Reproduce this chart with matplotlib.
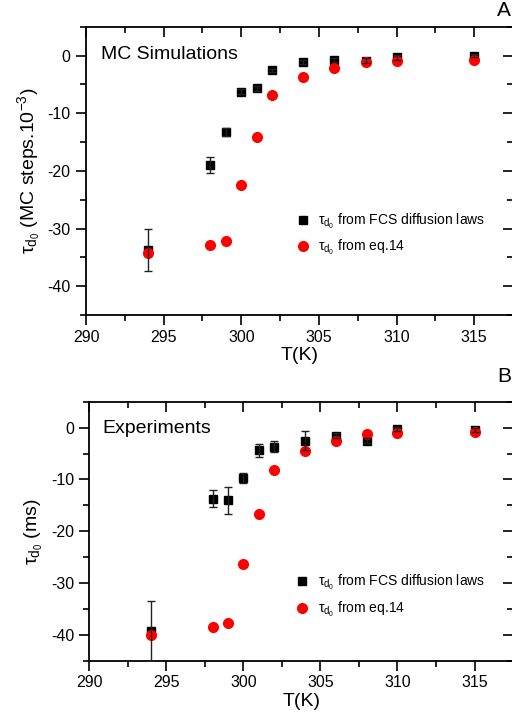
import numpy as np
import matplotlib
matplotlib.use('Agg')
import matplotlib.pyplot as plt
from matplotlib.ticker import MultipleLocator

plt.rcParams['font.family'] = ['Liberation Sans', 'DejaVu Sans']
plt.rcParams['mathtext.fontset'] = 'custom'
plt.rcParams['mathtext.rm'] = 'Liberation Sans'
plt.rcParams['mathtext.it'] = 'Liberation Sans'
plt.rcParams['mathtext.bf'] = 'Liberation Sans:bold'
plt.rcParams['axes.unicode_minus'] = False

# 온도 (K)
temp = [294, 298, 299, 300, 301, 302, 304, 306, 308, 310, 315]

# A: MC simulations
mc_fcs = [-33.7, -19.0, -13.3, -6.25, -5.7, -2.55, -1.1, -0.75, -0.87, -0.3, 0.0]
mc_fcs_err = [3.6, 1.4, 0.7, 0.5, 0.5, 0.3, 0.3, 0.3, 0.5, 0.4, 0.3]
mc_eq14 = [-34.2, -32.9, -32.1, -22.5, -14.2, -6.8, -3.8, -2.1, -1.1, -0.87, -0.7]

# B: experiments
exp_fcs = [-39.2, -13.7, -14.0, -9.7, -4.4, -3.65, -2.5, -1.55, -2.5, -0.3, -0.45]
exp_fcs_err = [5.8, 1.7, 2.6, 1.0, 1.3, 1.0, 1.8, 0.5, 0.5, 0.4, 0.4]
exp_eq14 = [-40.1, -38.5, -37.8, -26.4, -16.7, -8.1, -4.5, -2.5, -1.2, -1.0, -0.9]

fig = plt.figure(figsize=(5.12, 7.22), dpi=100)
ax1 = fig.add_axes([0.168, 0.5637, 0.834, 0.3993])
ax2 = fig.add_axes([0.1744, 0.0849, 0.8276, 0.3587])

lab_fcs = r'$\tau_{d_0}$ from FCS diffusion laws'
lab_eq = r'$\tau_{d_0}$ from eq.14'


def draw(ax, fcs, err, eq, title, ylabel, title_pos, leg_anchor):
    ax.plot(temp, fcs, 's', color='black', ms=6, zorder=3, label=lab_fcs)
    ax.plot(temp, eq, 'o', color='red', ms=7, zorder=4, label=lab_eq)
    ax.errorbar(temp, fcs, yerr=err, fmt='none', ecolor='#222222',
                elinewidth=1, capsize=3, capthick=1, zorder=5)
    ax.set_xlim(290, 317.5)
    ax.set_ylim(-45, 5)
    ax.xaxis.set_major_locator(MultipleLocator(5))
    ax.xaxis.set_minor_locator(MultipleLocator(2.5))
    ax.yaxis.set_major_locator(MultipleLocator(10))
    ax.yaxis.set_minor_locator(MultipleLocator(5))
    ax.tick_params(axis='both', which='major', labelsize=11.5, width=1.2, length=7)
    ax.tick_params(axis='both', which='minor', width=1.2, length=4)
    ax.tick_params(axis='x', which='both', direction='out', top=False, pad=3.5)
    ax.tick_params(axis='y', which='both', direction='out', right=False, pad=4)
    # 위/오른쪽 축 눈금 (안쪽)
    sec_x = ax.secondary_xaxis('top')
    sec_x.xaxis.set_major_locator(MultipleLocator(5))
    sec_x.xaxis.set_minor_locator(MultipleLocator(2.5))
    sec_x.tick_params(which='both', direction='in', labeltop=False, width=1.2)
    sec_x.tick_params(which='major', length=7)
    sec_x.tick_params(which='minor', length=4)
    sec_x.spines['top'].set_visible(False)
    sec_y = ax.secondary_yaxis('right')
    sec_y.yaxis.set_major_locator(MultipleLocator(10))
    sec_y.yaxis.set_minor_locator(MultipleLocator(5))
    sec_y.tick_params(which='both', direction='in', labelright=False, width=1.2)
    sec_y.tick_params(which='major', length=7)
    sec_y.tick_params(which='minor', length=4)
    sec_y.spines['right'].set_visible(False)
    for s in ax.spines.values():
        s.set_linewidth(1.3)
    ax.set_xlabel('T(K)', fontsize=14, labelpad=2)
    ax.set_ylabel(ylabel, fontsize=14, labelpad=4)
    ax.text(title_pos[0], title_pos[1], title, transform=ax.transAxes,
            fontsize=14, va='center', ha='left')
    ax.legend(loc='center left', bbox_to_anchor=leg_anchor, frameon=False,
              fontsize=10, handletextpad=0.6, labelspacing=0.55,
              handlelength=1.0, borderpad=0)


draw(ax1, mc_fcs, mc_fcs_err, mc_eq14, 'MC Simulations',
     r'$\tau_{d_0}$ (MC steps.10$^{-3}$)', (0.035, 0.905), (0.475, 0.2795))
draw(ax2, exp_fcs, exp_fcs_err, exp_eq14, 'Experiments',
     r'$\tau_{d_0}$ (ms)', (0.032, 0.898), (0.47, 0.2495))

fig.text(0.997, 0.998, 'A', fontsize=15, ha='right', va='top')
fig.text(0.971, 0.491, 'B', fontsize=15, ha='left', va='top')

fig.savefig('out.png', dpi=100)
